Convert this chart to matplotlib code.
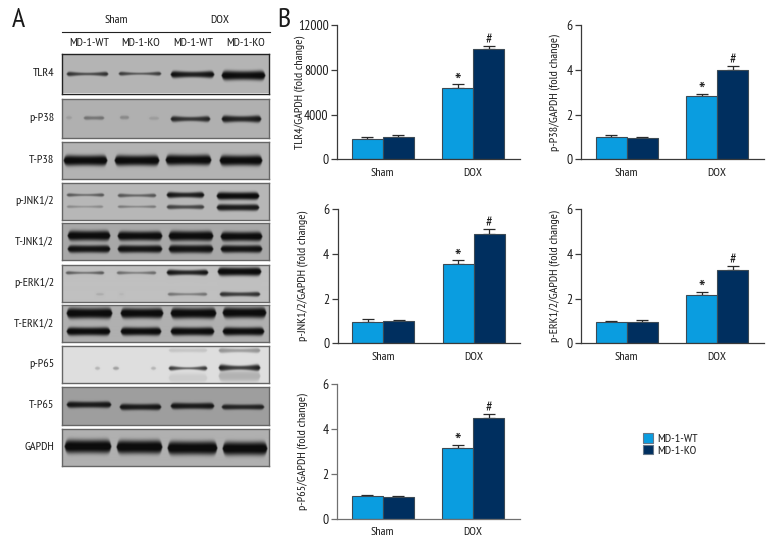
import numpy as np
import matplotlib
matplotlib.use("Agg")
import matplotlib.pyplot as plt
from matplotlib.patches import Patch

plt.rcParams['font.family'] = ['PT Sans Narrow', 'Barlow Condensed', 'Liberation Sans Narrow', 'DejaVu Sans']

W, H = 780, 552

# ---------- chart data ----------
groups = ['Sham', 'DOX']
series = ['MD-1-WT', 'MD-1-KO']
tlr4_wt, tlr4_ko = [1820, 6340], [1965, 9830]
tlr4_wt_err, tlr4_ko_err = [150, 360], [175, 320]
p38_wt, p38_ko = [1.00, 2.81], [0.94, 3.99]
p38_wt_err, p38_ko_err = [0.07, 0.12], [0.06, 0.16]
jnk_wt, jnk_ko = [0.97, 3.53], [0.98, 4.88]
jnk_wt_err, jnk_ko_err = [0.10, 0.17], [0.05, 0.21]
erk_wt, erk_ko = [0.97, 2.14], [0.94, 3.27]
erk_wt_err, erk_ko_err = [0.03, 0.17], [0.10, 0.17]
p65_wt, p65_ko = [1.00, 3.14], [0.97, 4.48]
p65_wt_err, p65_ko_err = [0.06, 0.15], [0.03, 0.18]

tlr4_ticks = [0, 4000, 8000, 12000]
fold_ticks = [0, 2, 4, 6]

# ---------- blot data: (x0, x1, y, half height, darkness, waist) ----------
lane_labels = ['MD-1-WT', 'MD-1-KO', 'MD-1-WT', 'MD-1-KO']
blot_tlr4 = [(5, 46, 21, 2.4, .8, .45), (57, 99, 20.7, 2.1, .75, .4),
             (109, 152, 21.5, 3.4, .97, .7), (160, 203, 22.5, 4.4, 1, .85)]
blot_p38 = [(4, 10, 18.7, 1.5, .12, 1), (22, 42, 19, 2, .4, .7), (58, 67, 18.5, 2, .25, .8),
            (87, 97, 19.3, 1.5, .12, 1), (109, 148, 20, 3, .85, .6), (160, 199, 20, 3.5, .92, .7)]
blot_tp38 = [(2, 45, 18.5, 4.8, 1, .9), (53, 97, 18.5, 4.8, 1, .9),
             (104, 149, 18, 4.8, 1, .9), (158, 200, 18.5, 4.8, 1, .9)]
blot_pjnk = [(5, 42, 12, 1.8, .6, .45), (5, 41, 23.7, 1.4, .3, .5),
             (56, 94, 12.5, 2, .6, .5), (56, 94, 23.7, 1.4, .4, .5),
             (105, 142, 12, 3, .95, .7), (105, 142, 24, 2.2, .7, .7),
             (155, 197, 13, 3.5, 1, .9), (155, 197, 24.5, 3, .9, .9)]
blot_tjnk = [(6, 48, 12.7, 4.6, 1, .9), (6, 48, 26, 3.5, .95, .9),
             (56, 100, 13, 4.3, 1, .9), (56, 100, 26, 3.5, .95, .9),
             (107, 151, 13, 4.6, 1, .9), (107, 151, 26, 3.8, .95, .9),
             (159, 200, 13.5, 4.3, 1, .9), (159, 200, 26, 3.5, .95, .9)]
blot_perk = [(4, 42, 7.7, 1.7, .6, .45), (55, 94, 7.7, 1.7, .5, .45),
             (105, 146, 7.4, 2.8, .95, .7), (156, 199, 6.5, 3.8, 1, .9),
             (34, 42, 28.7, 1, .12, 1), (57, 62, 28.7, 1, .06, 1),
             (106, 145, 28.7, 1.7, .45, .5), (158, 198, 28.7, 2.3, .8, .7)]
blot_terk = [(5, 50, 9, 4.8, 1, .9), (5, 48, 26.7, 3.7, 1, .9),
             (59, 101, 9, 4.6, 1, .9), (59, 99, 26.7, 3.7, 1, .9),
             (109, 154, 9, 4.8, 1, .9), (109, 152, 26.7, 3.7, 1, .9),
             (161, 204, 8.5, 4.8, 1, .9), (161, 202, 26.7, 3.7, 1, .9)]
blot_pp65 = [(33, 38, 22.3, 1.5, .2, 1), (51, 57, 22.3, 1.5, .3, 1), (89, 94, 22.3, 1.5, .2, 1),
             (107, 145, 22.3, 2.5, .8, .35), (157, 198, 21.8, 3.5, .9, .5),
             (107, 145, 4.3, 2, .12, .8), (107, 145, 32, 4, .08, 1),
             (157, 198, 4.5, 2.5, .35, .6), (157, 198, 30, 5, .2, 1)]
blot_tp65 = [(5, 49, 17.7, 3, .92, .85), (58, 99, 20, 3, .92, .85),
             (109, 152, 19, 3, .92, .85), (160, 202, 20, 2.5, .85, .85)]
blot_gapdh = [(3, 49, 18, 5.8, 1, .95), (55, 100, 18.5, 5.8, 1, .95),
              (106, 155, 19.5, 5.8, 1, .95), (161, 205, 20, 5.8, 1, .95)]

blot_names = ['TLR4', 'p-P38', 'T-P38', 'p-JNK1/2', 'T-JNK1/2', 'p-ERK1/2', 'T-ERK1/2', 'p-P65', 'T-P65', 'GAPDH']
blot_bands = [blot_tlr4, blot_p38, blot_tp38, blot_pjnk, blot_tjnk, blot_perk, blot_terk, blot_pp65, blot_tp65, blot_gapdh]
blot_tops = [53.5, 99, 142, 183, 223, 265, 305, 346, 387, 429]
blot_bottoms = [93.5, 138, 179, 220, 260, 301.5, 342, 383, 425, 466]
blot_bg = [.71, .69, .70, .72, .66, .75, .69, .87, .62, .69]
blot_edge = ['#222222'] + ['#666666'] * 9


def px_axes(l, t, r, b, **kw):
    return fig.add_axes([l / W, 1 - b / H, (r - l) / W, (b - t) / H], **kw)


def blot_image(bands, bg, w, h):
    s = 3
    xs = (np.arange(int(w * s)) + .5) / s
    ys = (np.arange(int(h * s)) + .5) / s
    X, Y = np.meshgrid(xs, ys)
    dark = np.zeros_like(X)
    for x0, x1, y, hh, d, waist in bands:
        c, hw = (x0 + x1) / 2, (x1 - x0) / 2
        u = (X - c) / hw
        prof = waist + (1 - waist) * np.clip(u ** 2, 0, 1)
        # rounded band ends: the band narrows over its last few pixels
        end = np.sqrt(np.clip(1 - np.abs(u) ** (hw / 1.6), 0.02, 1))
        thick = np.maximum(1.18 * hh * prof * end, 0.3)
        dens = d * (0.6 + 0.4 * prof) * np.exp(-(np.abs(Y - y) / thick) ** 3)
        dens = np.where(np.abs(u) > 1.02, 0, dens)
        dark = np.maximum(dark, dens)
    # soften, as a scanned film looks
    k = np.array([1, 4, 6, 4, 1], float) / 16
    for _ in range(2):
        dark = np.apply_along_axis(lambda v: np.convolve(v, k, mode='same'), 0, dark)
        dark = np.apply_along_axis(lambda v: np.convolve(v, k, mode='same'), 1, dark)
    return bg + (0.05 - bg) * np.clip(dark * 1.05, 0, 1)


fig = plt.figure(figsize=(W / 100, H / 100), dpi=100)
TXT = '#1a1a1a'

def ftext(x, y, s, **kw):
    kw.setdefault('color', TXT)
    kw.setdefault('va', 'center')
    fig.text(x / W, 1 - y / H, s, **kw)

ftext(18, 20, 'A', fontsize=20, ha='center')
ftext(284, 20, 'B', fontsize=20, ha='center')

# ---------- panel A ----------
BL, BR = 61.5, 268.5
LAB = 8.7
ftext(116, 20, 'Sham', fontsize=LAB, ha='center')
ftext(220, 20, 'DOX', fontsize=LAB, ha='center')
fig.add_artist(plt.Line2D([62 / W, 165.5 / W], [1 - 31.5 / H] * 2, color='#222222', lw=.8))
fig.add_artist(plt.Line2D([167 / W, 270 / W], [1 - 31.5 / H] * 2, color='#222222', lw=.8))
for lx, lab in zip([89, 141, 193, 246], lane_labels):
    ftext(lx, 43, lab, fontsize=LAB, ha='center')

for name, bands, top, bot, bg, edge in zip(blot_names, blot_bands, blot_tops, blot_bottoms, blot_bg, blot_edge):
    ax = px_axes(BL, top, BR, bot)
    ax.imshow(blot_image(bands, bg, BR - BL, bot - top), cmap='gray', vmin=0, vmax=1, aspect='auto',
              extent=[0, BR - BL, bot - top, 0], interpolation='bilinear')
    ax.set_xticks([])
    ax.set_yticks([])
    for sp in ax.spines.values():
        sp.set_color(edge)
        sp.set_linewidth(1.0)
    ftext(54, (top + bot) / 2 - 0.5, name, fontsize=LAB, ha='right')

# ---------- panel B ----------
WT_C, KO_C = '#0a9de0', '#002f5f'
EDGE = '#3c4a55'
GAP = 2.92
X_LEFT = 1.47


def bar_chart(l, t, r, b, wt, ko, wt_err, ko_err, ticks, ylabel, ylabel_x, axc='#3a3a3a'):
    ax = px_axes(l, t, r, b)
    pos = np.arange(len(groups)) * GAP
    for off, vals, errs, col in ((-.5, wt, wt_err, WT_C), (.5, ko, ko_err, KO_C)):
        x = pos + off
        ax.bar(x, vals, width=1, color=col, edgecolor=EDGE, linewidth=.8, zorder=2)
        ax.errorbar(x, vals, yerr=[np.zeros(len(vals)), errs], fmt='none', ecolor='#2a2a2a',
                    elinewidth=.9, capsize=4.4, capthick=.9, zorder=1)
    ax.annotate('*', (pos[1] - .5, wt[1] + wt_err[1]), xytext=(0, -5), textcoords='offset points',
                ha='center', va='bottom', fontsize=16, color=TXT)
    ax.annotate('#', (pos[1] + .5, ko[1] + ko_err[1]), xytext=(0, -1), textcoords='offset points',
                ha='center', va='bottom', fontsize=10.5, color=TXT)
    ax.set_xlim(-X_LEFT, (r - l) / 31 - X_LEFT)
    ax.set_ylim(ticks[0], ticks[-1])
    ax.set_xticks(pos, groups)
    ax.set_yticks(ticks)
    ax.tick_params(axis='x', length=0, pad=6, labelsize=8.7, labelcolor=TXT)
    ax.tick_params(axis='y', length=4, width=.9, pad=2, color=axc, labelsize=9.8, labelcolor=TXT)
    for s in ('top', 'right'):
        ax.spines[s].set_visible(False)
    for s in ('left', 'bottom'):
        ax.spines[s].set_color(axc)
        ax.spines[s].set_linewidth(.9)
    fig.text(ylabel_x / W, 1 - (t + b) / 2 / H, ylabel, rotation=90, ha='center', va='center',
             fontsize=8.7, color=TXT)
    return ax


bar_chart(337, 25, 520, 159.3, tlr4_wt, tlr4_ko, tlr4_wt_err, tlr4_ko_err, tlr4_ticks, 'TLR4/GAPDH (fold change)', 299.5)
bar_chart(581, 25, 764, 159.3, p38_wt, p38_ko, p38_wt_err, p38_ko_err, fold_ticks, 'p-P38/GAPDH (fold change)', 555)
bar_chart(337.5, 209, 520, 343.3, jnk_wt, jnk_ko, jnk_wt_err, jnk_ko_err, fold_ticks, 'p-JNK1/2/GAPDH (fold change)', 303)
bar_chart(581, 209, 764, 343.3, erk_wt, erk_ko, erk_wt_err, erk_ko_err, fold_ticks, 'p-ERK1/2/GAPDH (fold change)', 555)
bar_chart(337, 384, 520, 518.7, p65_wt, p65_ko, p65_wt_err, p65_ko_err, fold_ticks, 'p-P65/GAPDH (fold change)', 303, axc='#707070')

handles = [Patch(facecolor=WT_C, edgecolor='#667788', linewidth=.8),
           Patch(facecolor=KO_C, edgecolor='#667788', linewidth=.8)]
fig.legend(handles, series, loc='center left', bbox_to_anchor=(640.5 / W, 1 - 444.5 / H), frameon=False,
           fontsize=8.8, handlelength=.82, handleheight=.82, handletextpad=.33, labelspacing=.08,
           borderpad=0.2, borderaxespad=0, labelcolor=TXT)

fig.savefig('out.png', dpi=100)
